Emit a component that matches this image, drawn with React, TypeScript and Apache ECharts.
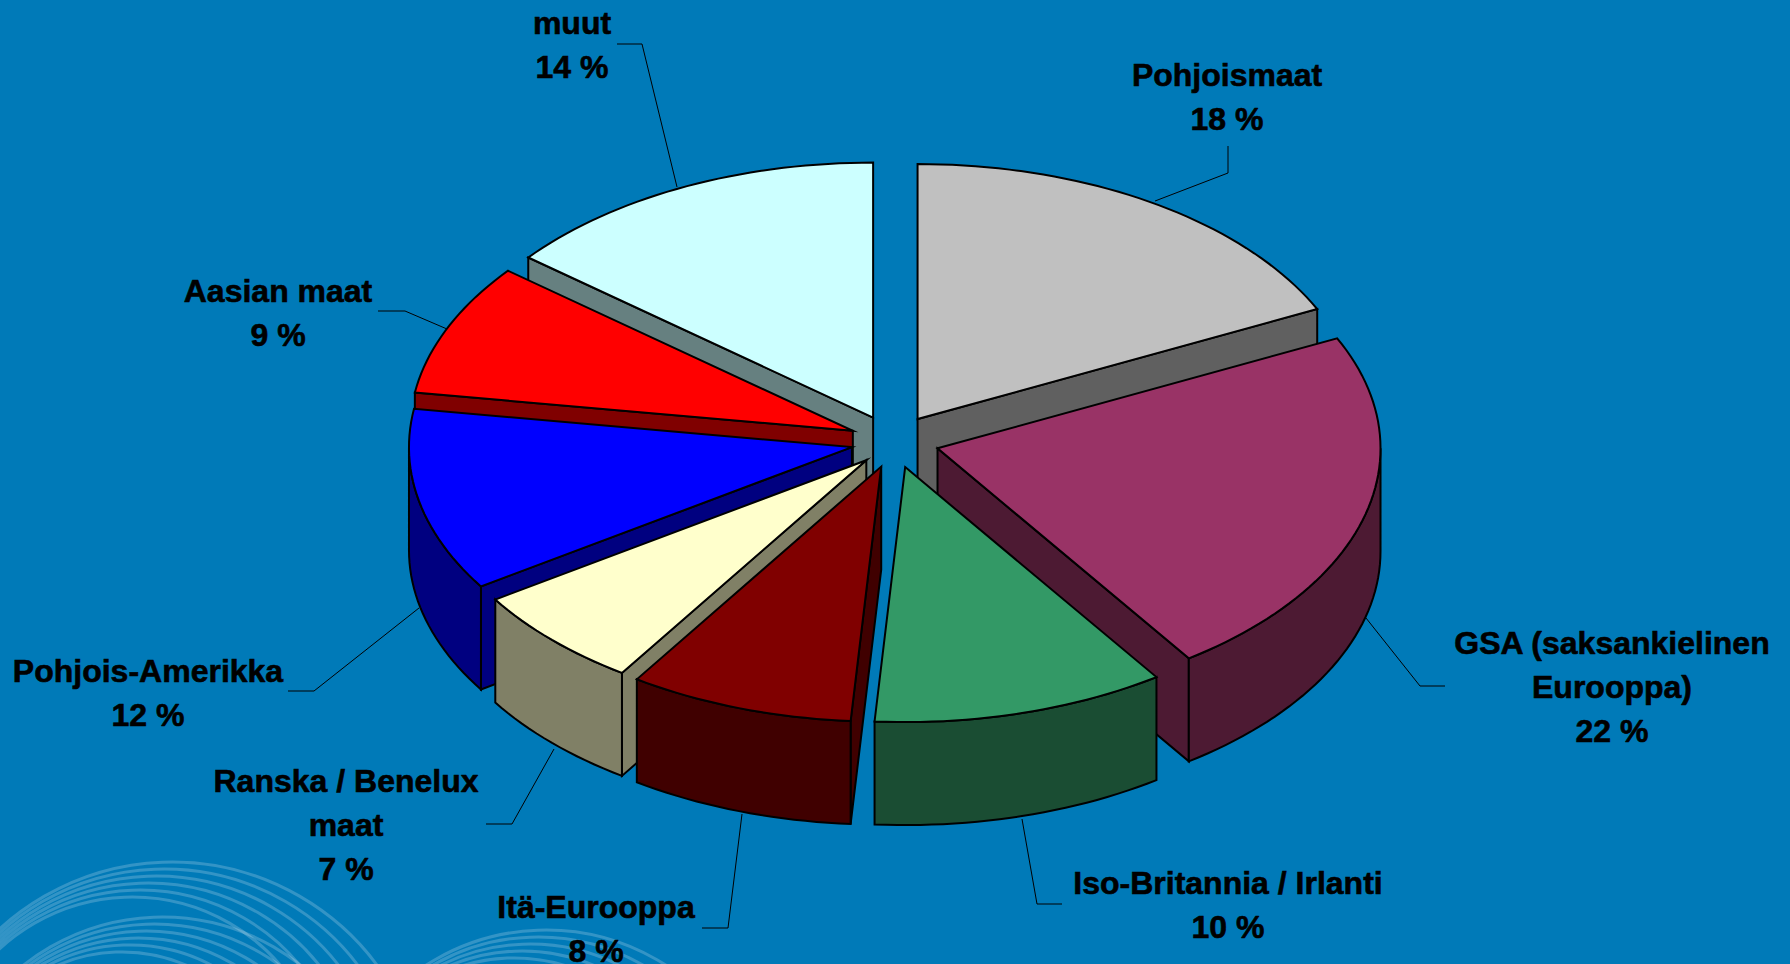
import React, { useEffect, useRef } from "react";
import * as echarts from "echarts";

// Data
const categories = ["Pohjoismaat", "GSA (saksankielinen\nEurooppa)", "Iso-Britannia / Irlanti", "Itä-Eurooppa", "Ranska / Benelux\nmaat", "Pohjois-Amerikka", "Aasian maat", "muut"];
const shares = [17.9, 22.5, 10.7, 8.2, 6.5, 11.6, 8.4, 14.2];
const percentLabels = ["18 %", "22 %", "10 %", "8 %", "7 %", "12 %", "9 %", "14 %"];
const colors = ["#C0C0C0", "#993366", "#339966", "#800000", "#FFFFCC", "#0000FF", "#FF0000", "#CCFFFF"];
// back-to-front painting order (indices into the lists above)
const drawOrder = [7, 0, 6, 5, 4, 3, 1, 2];

// Geometry of the projected pie
const W = 1790, H = 964;
const CX = 893, CY = 441.5, RX = 443, RY = 255, DEPTH = 103, EXPLODE = 0.104;
const nudgeX = [0, 0, 0, 3, 6, 4, 2, 0];

// Label layout
const labelCenters = [[1227, 97], [1612, 687], [1228, 905], [596, 929], [346, 825], [148, 693], [278, 313], [572, 45]];
const leaders = [
  [[1228, 146], [1228, 173], [1155, 201]],
  [[1445, 686], [1420, 686], [1366, 618]],
  [[1062, 904], [1037, 904], [1022, 819]],
  [[702, 928], [728, 928], [742, 814]],
  [[486, 824], [512, 824], [554, 749]],
  [[288, 691], [314, 691], [419, 608]],
  [[378, 311], [405, 311], [447, 329]],
  [[617, 44], [642, 44], [677, 187]],
];
const swirlSets = [
  { cx: 172, cy: 1117, r: 255, n: 6 },
  { cx: 162, cy: 1140, r: 223, n: 6 },
  { cx: 546, cy: 1152, r: 222, n: 5 },
];

const darken = (hex: string) => {
  const v = parseInt(hex.slice(1), 16);
  const c = [(v >> 16) & 255, (v >> 8) & 255, v & 255].map((x) => Math.round(x / 2));
  return `rgb(${c[0]},${c[1]},${c[2]})`;
};
const total = shares.reduce((a, b) => a + b, 0);
const starts: number[] = [];
shares.reduce((acc, s, i) => { starts[i] = acc; return acc + (s / total) * 360; }, 0);
const rad = (d: number) => (d * Math.PI) / 180;

const renderSlice = (_p: any, api: any) => {
  const i = api.value(0) as number;
  const a0 = starts[i];
  const a1 = a0 + (shares[i] / total) * 360;
  const mid = (a0 + a1) / 2;
  const tx = CX + EXPLODE * RX * Math.sin(rad(mid)) + nudgeX[i];
  const ty = CY - EXPLODE * RY * Math.cos(rad(mid));
  const rim = (a: number, dz = 0) => [tx + RX * Math.sin(rad(a)), ty - RY * Math.cos(rad(a)) + dz];
  const arc = (from: number, to: number, dz = 0) => {
    const n = Math.max(2, Math.ceil((to - from) / 1.5));
    const out: number[][] = [];
    for (let k = 0; k <= n; k++) out.push(rim(from + ((to - from) * k) / n, dz));
    return out;
  };
  const wall = darken(colors[i]);
  const style = (fill: string) => ({ fill, stroke: "#000", lineWidth: 2, lineJoin: "miter", miterLimit: 6 });
  const children: any[] = [];
  // radial cut faces that look towards the viewer
  [[a0, a0 - 90], [a1, a1 + 90]].forEach(([edge, normal]) => {
    if (Math.cos(rad(normal)) < -0.01) {
      const p = rim(edge);
      children.push({
        type: "polygon",
        shape: { points: [[tx, ty], p, [p[0], p[1] + DEPTH], [tx, ty + DEPTH]] },
        style: style(wall),
      });
    }
  });
  // outer wall (front half only)
  const f0 = Math.max(a0, 90), f1 = Math.min(a1, 270);
  if (f1 > f0) {
    children.push({
      type: "polygon",
      shape: { points: [...arc(f0, f1), ...arc(f0, f1, DEPTH).reverse()] },
      style: style(wall),
    });
  }
  // top face
  children.push({
    type: "polygon",
    shape: { points: [[tx, ty], ...arc(a0, a1)] },
    style: style(colors[i]),
  });
  return { type: "group", children };
};

export default function App() {
  const ref = useRef<HTMLDivElement>(null);
  useEffect(() => {
    document.body.style.margin = "0";
    document.body.style.overflow = "hidden";
    const chart = echarts.init(ref.current!, undefined, { renderer: "svg" });
    const swirls: any[] = [];
    swirlSets.forEach((s) => {
      for (let k = 0; k < s.n; k++) {
        const r = s.r - k * 12;
        swirls.push({
          type: "circle",
          silent: true,
          shape: { cx: s.cx - k * 8, cy: s.cy - s.r + k * 7 + r, r },
          style: { fill: "none", stroke: "rgba(255,255,255,0.2)", lineWidth: 3 },
          z: 0,
        });
      }
    });
    const leaderEls = leaders.map((pts) => ({
      type: "polyline",
      silent: true,
      shape: { points: pts },
      style: { fill: "none", stroke: "#000", lineWidth: 1 },
      z: 5,
    }));
    const textEls = categories.map((c, i) => ({
      type: "text",
      silent: true,
      x: labelCenters[i][0],
      y: labelCenters[i][1],
      style: {
        text: `${c}\n${percentLabels[i]}`,
        fill: "#000",
        stroke: "#000",
        lineWidth: 0.6,
        font: 'bold 32px "Liberation Sans", Arial, sans-serif',
        lineHeight: 44,
        align: "center",
        verticalAlign: "middle",
      },
      z: 6,
    }));
    chart.setOption({
      animation: false,
      backgroundColor: "#007AB8",
      graphic: { elements: [...swirls, ...leaderEls, ...textEls] },
      series: [
        {
          type: "custom",
          coordinateSystem: "none",
          silent: true,
          z: 3,
          clip: false,
          renderItem: renderSlice,
          data: drawOrder.map((i) => [i]),
        },
      ],
    });
    return () => chart.dispose();
  }, []);
  return <div ref={ref} style={{ width: W, height: H }} />;
}
